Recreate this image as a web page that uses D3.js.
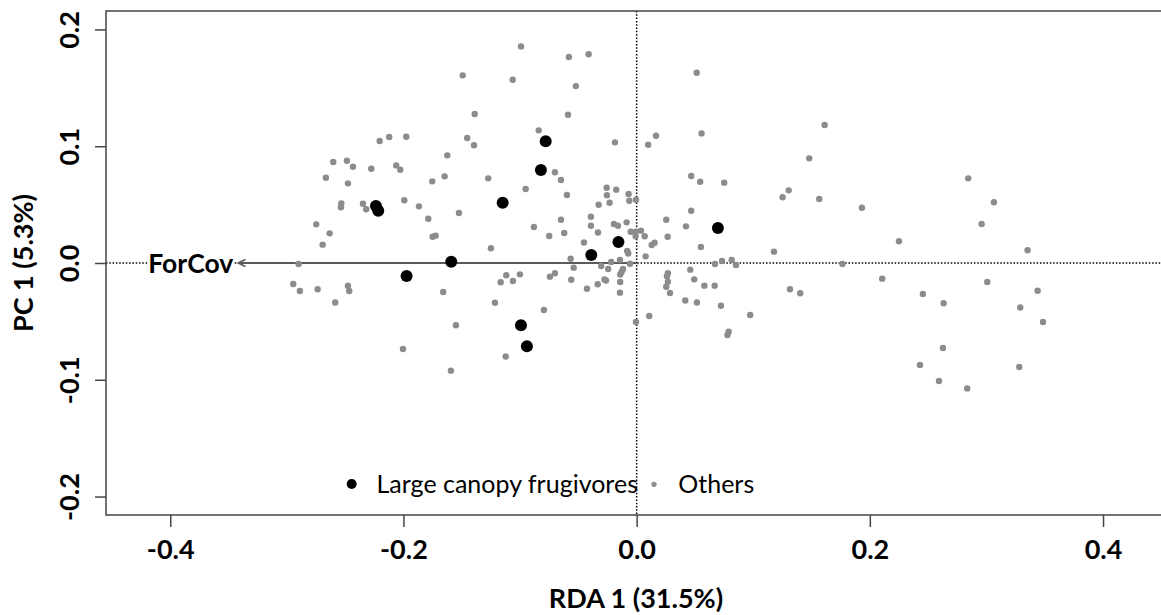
<!DOCTYPE html>
<html>
<head>
<meta charset="utf-8">
<script src="https://cdn.jsdelivr.net/npm/d3@7"></script>
<style>
  html, body { margin: 0; padding: 0; background: #fff; }
  svg { display: block; }
  text { font-family: Lato, "Open Sans", sans-serif; }
</style>
</head>
<body>
<svg id="chart" width="1161" height="615"></svg>
<script>
// Site scores on RDA 1 (constrained) and PC 1 (first unconstrained axis)
const othersX = [
  -0.0992,-0.1492,-0.1063,-0.1389,-0.0840,-0.2204,-0.2122,-0.1976,-0.1453,-0.1395,
  -0.1624,-0.2602,-0.2485,-0.2433,-0.2276,-0.2062,-0.2027,-0.2665,-0.2476,-0.1753,
  -0.1647,-0.1273,-0.0701,-0.0649,-0.0952,-0.2533,-0.2536,-0.2347,-0.2319,-0.1993,
  -0.1867,-0.1524,-0.2748,-0.2633,-0.2693,-0.2899,-0.2945,-0.2888,-0.2736,-0.2476,
  -0.2465,-0.2585,-0.1787,-0.1750,-0.1724,-0.1250,-0.0881,-0.0750,-0.0649,-0.1659,
  -0.1550,-0.2004,-0.1593,-0.1215,-0.1166,-0.1118,-0.1061,-0.1001,-0.0795,-0.0744,
  -0.0701,-0.1123,-0.0581,-0.0412, 0.0515,-0.0521,-0.0589, 0.1612,-0.0186, 0.0099,
   0.0166, 0.0557, 0.1480, 0.0468, 0.0545, 0.0751,-0.0598,-0.0257,-0.0255,-0.0175,
  -0.0069,-0.0326,-0.0232,-0.0063,-0.0006, 0.1304, 0.1252, 0.1566, 0.0468,-0.0392,
  -0.0392,-0.0621,-0.0332,-0.0195,-0.0160,-0.0086,-0.0051,-0.0009, 0.0037,-0.0009,
   0.0069,-0.0452,-0.0081,-0.0072, 0.0129, 0.0154, 0.0077,-0.0566,-0.0540,-0.0218,
  -0.0143,-0.0304,-0.0244,-0.0057,-0.0117,-0.0129,-0.0141,-0.0561,-0.0276,-0.0263,
  -0.0334,-0.0426,-0.0141,-0.0143,-0.0006, 0.0108, 0.0254, 0.0423, 0.0266, 0.0551,
   0.1178, 0.0672, 0.0732, 0.0815, 0.0852, 0.0460, 0.0494, 0.0581, 0.0669, 0.0268,
   0.0260, 0.0268, 0.0254, 0.0286, 0.0417, 0.0517, 0.0723, 0.0974, 0.0789, 0.0779,
   0.1315, 0.1403, 0.1932, 0.2250, 0.2844, 0.3064, 0.2959, 0.3353, 0.1765, 0.2106,
   0.2455, 0.2633, 0.3007, 0.3439, 0.3290, 0.3485, 0.2627, 0.2430, 0.3281, 0.2593,
   0.2835
];
const othersY = [
   0.1855, 0.1607, 0.1569, 0.1276, 0.1136, 0.1045, 0.1079, 0.1081, 0.1070, 0.1008,
   0.0922, 0.0865, 0.0876, 0.0824, 0.0807, 0.0836, 0.0799, 0.0730, 0.0682, 0.0699,
   0.0742, 0.0725, 0.0777, 0.0711, 0.0634, 0.0511, 0.0477, 0.0508, 0.0460, 0.0537,
   0.0485, 0.0428, 0.0331, 0.0254, 0.0157,-0.0009,-0.0180,-0.0240,-0.0225,-0.0194,
  -0.0240,-0.0338, 0.0379, 0.0225, 0.0234, 0.0126, 0.0308, 0.0231, 0.0371,-0.0248,
  -0.0533,-0.0736,-0.0922,-0.0340,-0.0165,-0.0105,-0.0154,-0.0097,-0.0402,-0.0117,
  -0.0088,-0.0801, 0.1764, 0.1787, 0.1629, 0.1515, 0.1270, 0.1182, 0.1033, 0.1013,
   0.1090, 0.1110, 0.0896, 0.0745, 0.0696, 0.0688, 0.0582, 0.0645, 0.0580, 0.0628,
   0.0591, 0.0499, 0.0516, 0.0533, 0.0542, 0.0622, 0.0563, 0.0548, 0.0448, 0.0396,
   0.0319, 0.0257, 0.0261, 0.0334, 0.0319, 0.0348, 0.0268, 0.0268, 0.0277, 0.0229,
   0.0229, 0.0176, 0.0103, 0.0081, 0.0154, 0.0174, 0.0057, 0.0037,-0.0040, 0.0009,
   0.0026,-0.0026,-0.0051,-0.0006,-0.0051,-0.0077,-0.0098,-0.0143,-0.0141,-0.0150,
  -0.0182,-0.0220,-0.0163,-0.0254,-0.0505,-0.0454, 0.0371, 0.0314, 0.0225, 0.0137,
   0.0097,-0.0009, 0.0017, 0.0026,-0.0017,-0.0057,-0.0140,-0.0194,-0.0194,-0.0088,
  -0.0114,-0.0160,-0.0203,-0.0257,-0.0321,-0.0338,-0.0366,-0.0445,-0.0588,-0.0616,
  -0.0225,-0.0259, 0.0473, 0.0186, 0.0725, 0.0520, 0.0334, 0.0109,-0.0009,-0.0134,
  -0.0265,-0.0345,-0.0163,-0.0238,-0.0381,-0.0505,-0.0728,-0.0873,-0.0890,-0.1010,
  -0.1074
];
const frugX = [-0.2236,-0.2216,-0.1973,-0.1590,-0.1149,-0.0992,-0.0941,-0.0821,-0.0780,-0.0389,-0.0156, 0.0697];
const frugY = [ 0.0488, 0.0448,-0.0111, 0.0011, 0.0516,-0.0533,-0.0713, 0.0796, 0.1042, 0.0068, 0.0180, 0.0300];

// Environmental biplot arrow
const envName = "ForCov";
const envX = -0.3417, envY = 0.0;

const xTicks = [-0.4, -0.2, 0.0, 0.2, 0.4];
const yTicks = [-0.2, -0.1, 0.0, 0.1, 0.2];
const xTitle = "RDA 1 (31.5%)";
const yTitle = "PC 1 (5.3%)";
const legendLabels = ["Large canopy frugivores", "Others"];

const svg = d3.select("#chart");
const plotL = 106, plotR = 1166, plotT = 11, plotB = 515;

const x = d3.scaleLinear().domain([-0.4551, 0.4540]).range([plotL, plotR]);
const y = d3.scaleLinear().domain([-0.2158, 0.2158]).range([plotB, plotT]);

const grey = "#8c8c8c";
const axisCol = "#454545";
const fmt = d => d3.format(".1f")(d).replace("\u2212", "-");

// Reference lines through the origin
svg.append("line")
  .attr("x1", plotL).attr("x2", plotR).attr("y1", y(0)).attr("y2", y(0))
  .attr("stroke", "#000").attr("stroke-width", 1.5).attr("stroke-dasharray", "1.5,1.8");
svg.append("line")
  .attr("x1", x(0)).attr("x2", x(0)).attr("y1", plotT).attr("y2", plotB)
  .attr("stroke", "#000").attr("stroke-width", 1.5).attr("stroke-dasharray", "1.5,1.8");

// Biplot arrow
const ax0 = x(0), ay0 = y(0), ax1 = x(envX), ay1 = y(envY);
svg.append("line")
  .attr("x1", ax0).attr("y1", ay0).attr("x2", ax1).attr("y2", ay1)
  .attr("stroke", "#5a5a5a").attr("stroke-width", 1.8);
const ang = Math.atan2(ay1 - ay0, ax1 - ax0);
const headLen = 8, headAng = Math.PI / 7;
svg.append("path")
  .attr("d", `M${ax1 + headLen * Math.cos(ang + Math.PI - headAng)},${ay1 + headLen * Math.sin(ang + Math.PI - headAng)}
              L${ax1},${ay1}
              L${ax1 + headLen * Math.cos(ang + Math.PI + headAng)},${ay1 + headLen * Math.sin(ang + Math.PI + headAng)}`)
  .attr("fill", "none").attr("stroke", "#5a5a5a").attr("stroke-width", 1.6);

// Arrow label on a white backing so the origin line does not run through it
const lbl = svg.append("g");
const lblText = lbl.append("text")
  .attr("x", ax1 - 5).attr("y", ay1 + 9.5)
  .attr("text-anchor", "end")
  .attr("font-weight", "bold").attr("font-size", 26.5)
  .attr("fill", "#000")
  .text(envName);
const bb = lblText.node().getBBox();
lbl.insert("rect", "text")
  .attr("x", bb.x).attr("y", ay1 - 3).attr("width", bb.width).attr("height", 6)
  .attr("fill", "#fff");

// Points
svg.append("g").selectAll("circle")
  .data(d3.range(othersX.length))
  .join("circle")
  .attr("cx", i => x(othersX[i])).attr("cy", i => y(othersY[i]))
  .attr("r", 3.2).attr("fill", grey);
svg.append("g").selectAll("circle")
  .data(d3.range(frugX.length))
  .join("circle")
  .attr("cx", i => x(frugX[i])).attr("cy", i => y(frugY[i]))
  .attr("r", 6).attr("fill", "#000");

// Box (open on the right, which falls outside the canvas)
svg.append("path")
  .attr("d", `M${plotR},${plotT} L${plotL},${plotT} L${plotL},${plotB} L${plotR},${plotB}`)
  .attr("fill", "none").attr("stroke", axisCol).attr("stroke-width", 1.5);

// Axes
const xAxis = svg.append("g").attr("transform", `translate(0,${plotB})`)
  .call(d3.axisBottom(x).tickValues(xTicks).tickSize(12).tickFormat(fmt));
xAxis.select(".domain").remove();
xAxis.selectAll("line").attr("stroke", axisCol).attr("stroke-width", 1.5);
xAxis.selectAll("text")
  .attr("y", 44).attr("dy", null)
  .attr("font-family", "Lato, sans-serif")
  .attr("font-weight", "bold").attr("font-size", 27).attr("fill", "#000");

const yAxis = svg.append("g").attr("transform", `translate(${plotL},0)`)
  .call(d3.axisLeft(y).tickValues(yTicks).tickSize(11).tickFormat(fmt));
yAxis.select(".domain").remove();
yAxis.selectAll("line").attr("stroke", axisCol).attr("stroke-width", 1.5);
yAxis.selectAll("text")
  .attr("x", null).attr("dy", null)
  .attr("transform", "translate(-27,0) rotate(-90)")
  .attr("text-anchor", "middle")
  .attr("font-family", "Lato, sans-serif")
  .attr("font-weight", "bold").attr("font-size", 27).attr("fill", "#000");

// Axis titles
svg.append("text")
  .attr("x", (plotL + plotR) / 2).attr("y", 608)
  .attr("text-anchor", "middle")
  .attr("font-weight", "bold").attr("font-size", 27)
  .text(xTitle);
svg.append("text")
  .attr("transform", `translate(33,${(plotT + plotB) / 2}) rotate(-90)`)
  .attr("text-anchor", "middle")
  .attr("font-weight", "bold").attr("font-size", 27)
  .text(yTitle);

// Legend
const lg = svg.append("g");
lg.append("circle").attr("cx", 351.7).attr("cy", 484).attr("r", 5).attr("fill", "#000");
lg.append("text").attr("x", 376.5).attr("y", 492.7)
  .attr("font-size", 25).attr("fill", "#000").text(legendLabels[0]);
lg.append("circle").attr("cx", 654).attr("cy", 484.3).attr("r", 2.6).attr("fill", grey);
lg.append("text").attr("x", 678.3).attr("y", 492.7)
  .attr("font-size", 25).attr("fill", "#000").text(legendLabels[1]);
</script>
</body>
</html>
